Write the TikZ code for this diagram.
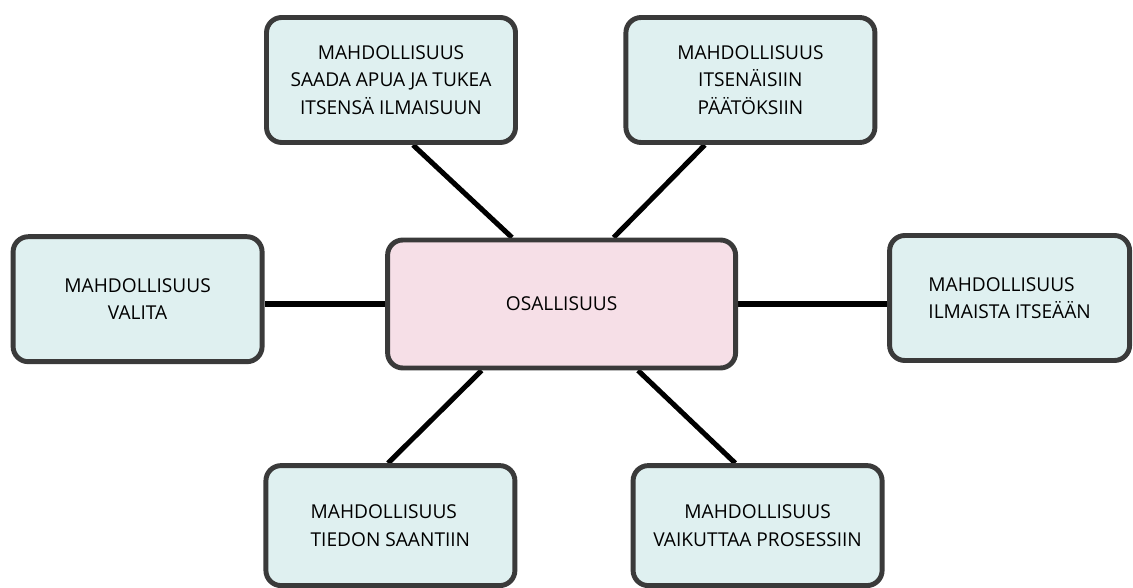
\documentclass[tikz,border=0pt]{standalone}
\usepackage{fontspec}
\setmainfont{Open Sans}
\usetikzlibrary{backgrounds}

\definecolor{boxfill}{HTML}{DFF0F0}
\definecolor{hubfill}{HTML}{F6DFE7}
\definecolor{boxline}{HTML}{3A3A3A}

\tikzset{
    chance/.style={draw=boxline, fill=boxfill, line width=3.5pt, rounded corners=0.38cm,
        minimum width=6.225cm, minimum height=3.125cm, align=center,
        font=\fontsize{13.6}{19.6}\selectfont},
    hub/.style={chance, fill=hubfill, minimum width=8.7cm, minimum height=3.2cm},
    link/.style={line width=3.6pt, black}
}

\begin{document}
\begin{tikzpicture}
    \useasboundingbox (0,0) rectangle (28.325,-14.7);

    \node[hub]    (osallisuus) at (14.04,-7.6)  {OSALLISUUS};
    \node[chance] (apu)        at (9.775,-2.0)  {MAHDOLLISUUS\\SAADA APUA JA TUKEA\\ITSENSÄ ILMAISUUN};
    \node[chance] (paatos)     at (18.76,-2.0)  {MAHDOLLISUUS\\ITSENÄISIIN\\PÄÄTÖKSIIN};
    \node[chance] (valinta)    at (3.44,-7.48)  {MAHDOLLISUUS\\VALITA};
    \node[chance, minimum width=6.0cm, align=left]
                  (ilmaisu)    at (25.24,-7.45) {MAHDOLLISUUS\\ILMAISTA ITSEÄÄN};
    \node[chance, minimum height=3.0cm, align=left]
                  (tieto)      at (9.76,-13.14) {MAHDOLLISUUS\\TIEDON SAANTIIN};
    \node[chance, minimum height=3.0cm]
                  (vaikutus)   at (18.94,-13.14) {MAHDOLLISUUS\\VAIKUTTAA PROSESSIIN};

    % spokes behind the boxes
    \begin{scope}[on background layer]
        \draw[link] ([xshift=0.55cm]apu.south)     -- ([xshift=-1.24cm]osallisuus.north);
        \draw[link] ([xshift=-1.14cm]paatos.south) -- ([xshift=1.3cm]osallisuus.north);
        \draw[link] ([xshift=-0.06cm]tieto.north)  -- ([xshift=-2.0cm]osallisuus.south);
        \draw[link] ([xshift=-0.56cm]vaikutus.north) -- ([xshift=1.91cm]osallisuus.south);
        \draw[link] (osallisuus.west) -- (osallisuus.west -| valinta.east);
        \draw[link] (osallisuus.east) -- (osallisuus.east -| ilmaisu.west);
    \end{scope}
\end{tikzpicture}
\end{document}
